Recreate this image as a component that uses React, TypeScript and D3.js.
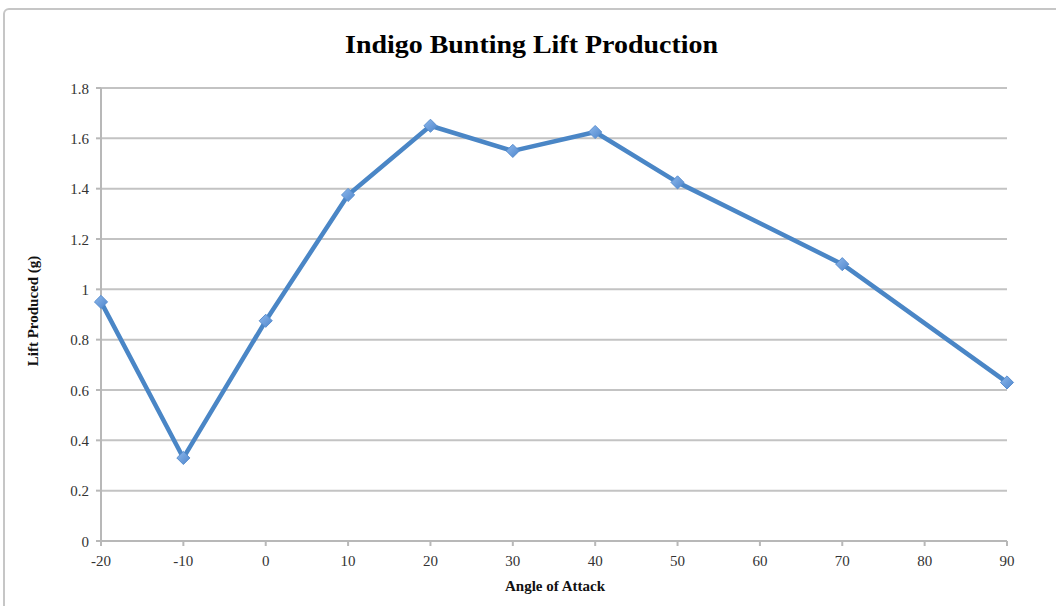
import React from "react";
import * as d3 from "d3";

const angles = [-20, -10, 0, 10, 20, 30, 40, 50, 70, 90];
const lift = [0.95, 0.33, 0.875, 1.375, 1.65, 1.55, 1.625, 1.425, 1.1, 0.63];
const xTicks = [-20, -10, 0, 10, 20, 30, 40, 50, 60, 70, 80, 90];
const yTicks = [0, 0.2, 0.4, 0.6, 0.8, 1, 1.2, 1.4, 1.6, 1.8];
const title = "Indigo Bunting Lift Production";
const xTitle = "Angle of Attack";
const yTitle = "Lift Produced (g)";

export default function App() {
  const W = 1056, H = 606;
  const left = 101, right = 1007, top = 88, bottom = 541;
  const x = d3.scaleLinear().domain([-20, 90]).range([left, right]);
  const y = d3.scaleLinear().domain([0, 1.8]).range([bottom, top]);
  const line = d3.line<number>().x((_, i) => x(angles[i])).y((d) => y(d));
  const font = "'Liberation Serif', 'Times New Roman', serif";
  const diamond = d3.symbol().type(d3.symbolDiamond2).size(110)();
  return (
    <svg width={W} height={H} style={{ position: "absolute", left: 0, top: 0, background: "#fff" }} fontFamily={font}>
      <defs>
        <linearGradient id="mk" x1="0" y1="0" x2="1" y2="1">
          <stop offset="0%" stopColor="#8db8ec" />
          <stop offset="100%" stopColor="#4f86cc" />
        </linearGradient>
      </defs>
      <rect x={4} y={9} width={W + 20} height={H + 20} rx={5} fill="#fff" stroke="#c6c6c6" strokeWidth={2} />
      <text x={531.5} y={53} textAnchor="middle" fontSize={25} fontWeight="bold" fill="#000" textLength={373} lengthAdjust="spacingAndGlyphs">{title}</text>
      {yTicks.map((t) => (
        <g key={t}>
          {t !== 0 && <line x1={left} x2={right} y1={y(t)} y2={y(t)} stroke="#c3c3c3" strokeWidth={2} />}
          <line x1={left - 5} x2={left} y1={y(t)} y2={y(t)} stroke="#b8b8b8" strokeWidth={2} />
          <text x={89} y={y(t) + 5.5} textAnchor="end" fontSize={15} fill="#333">{t}</text>
        </g>
      ))}
      <line x1={left} x2={left} y1={top} y2={bottom} stroke="#b8b8b8" strokeWidth={2} />
      <line x1={left} x2={right} y1={bottom} y2={bottom} stroke="#b8b8b8" strokeWidth={2} />
      {xTicks.map((t) => (
        <g key={t}>
          <line x1={x(t)} x2={x(t)} y1={bottom} y2={bottom + 5} stroke="#b8b8b8" strokeWidth={2} />
          <text x={x(t)} y={566} textAnchor="middle" fontSize={15} fill="#333">{t}</text>
        </g>
      ))}
      <text x={555} y={591} textAnchor="middle" fontSize={15} fontWeight="bold" fill="#111">{xTitle}</text>
      <text transform={`translate(38,${311}) rotate(-90)`} textAnchor="middle" fontSize={15} fontWeight="bold" fill="#111">{yTitle}</text>
      <path d={line(lift) || ""} fill="none" stroke="#4a86c6" strokeWidth={4.5} strokeLinejoin="round" />
      {lift.map((v, i) => (
        <path key={i} d={diamond || ""} transform={`translate(${x(angles[i])},${y(v)})`} fill="url(#mk)" stroke="#5a8fd0" strokeWidth={1} />
      ))}
    </svg>
  );
}
